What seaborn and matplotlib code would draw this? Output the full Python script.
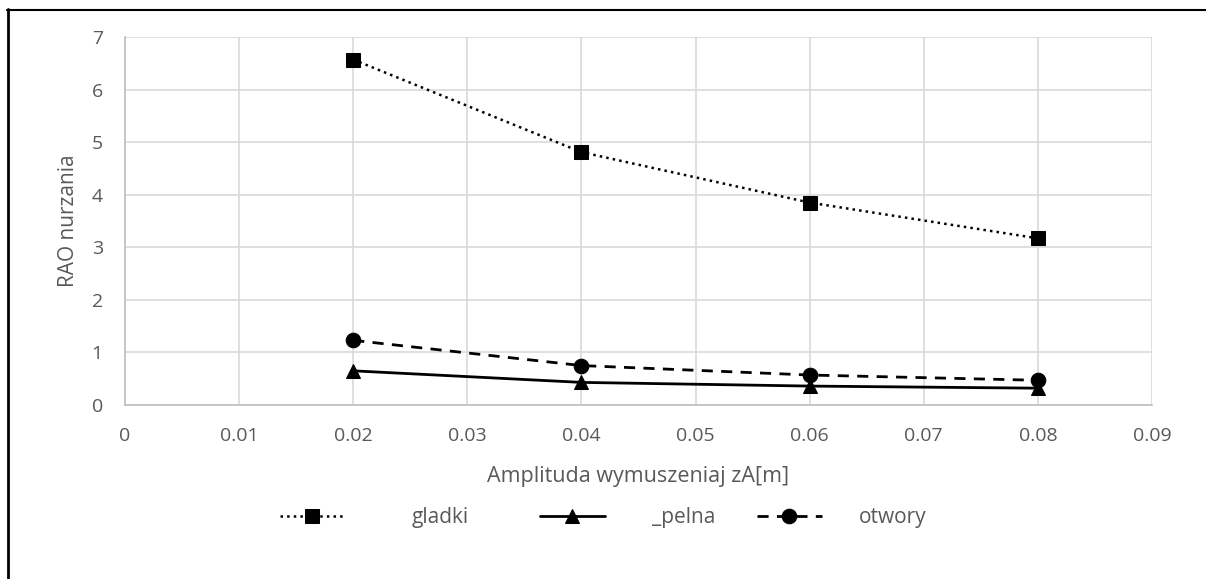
import numpy as np
import pandas as pd
import matplotlib
matplotlib.use("Agg")
import matplotlib.pyplot as plt
from matplotlib.lines import Line2D
import seaborn as sns

# values
amplituda = [0.02, 0.04, 0.06, 0.08]
gladki = [6.57, 4.81, 3.85, 3.17]
pelna = [0.65, 0.43, 0.36, 0.32]
otwory = [1.23, 0.75, 0.57, 0.47]

series_names = ["gladki", "_pelna", "otwory"]
x_ticks = [0, 0.01, 0.02, 0.03, 0.04, 0.05, 0.06, 0.07, 0.08, 0.09]
x_ticklabels = ["0", "0.01", "0.02", "0.03", "0.04", "0.05", "0.06", "0.07", "0.08", "0.09"]
y_ticks = [0, 1, 2, 3, 4, 5, 6, 7]

sns.set_style("white")
plt.rcParams["font.family"] = ["Open Sans", "DejaVu Sans"]

df = pd.DataFrame({
    "x": amplituda * 3,
    "y": gladki + pelna + otwory,
    "seria": [n for n in series_names for _ in amplituda],
})

fig = plt.figure(figsize=(12.06, 5.79), dpi=100)
ax = fig.add_axes([125 / 1206, 1 - 405 / 579, (1152 - 125) / 1206, (405 - 37) / 579])

styles = {"gladki": (":", "s", 1.8, 10.5),
          "_pelna": ("-", "^", 2.0, 10.5),
          "otwory": ((0, (4, 3)), "o", 2.0, 10.5)}
handles = []
for name in series_names:
    ls, mk, lw, ms = styles[name]
    sub = df[df["seria"] == name]
    sns.lineplot(data=sub, x="x", y="y", ax=ax, color="black", linestyle=ls,
                 linewidth=lw, marker=mk, markersize=ms, markeredgecolor="black",
                 legend=False, zorder=3)
    handles.append(ax.lines[-1])

ax.set_xlim(0, 0.09)
ax.set_ylim(0, 7)
ax.set_xticks(x_ticks)
ax.set_xticklabels(x_ticklabels)
ax.set_yticks(y_ticks)
ax.grid(True, color="#d9d9d9", linewidth=1.2)
for side in ["top", "right"]:
    ax.spines[side].set_visible(False)
for side in ["left", "bottom"]:
    ax.spines[side].set_color("#bfbfbf")
    ax.spines[side].set_linewidth(1.2)
ax.tick_params(colors="#595959", labelsize=14, length=0, pad=16)

ax.set_xlabel("Amplituda wymuszeniaj zA[m]", fontsize=15.5, color="#595959", labelpad=15)
ax.set_ylabel("RAO nurzania", fontsize=15, color="#595959", labelpad=9)

# legend entries are spaced unevenly in the reference, so one small legend per entry
leg_x = [280, 540, 757]
leg_pad = [3.2, 2.3, 1.8]
for h, name, x0, tp in zip(handles, series_names, leg_x, leg_pad):
    leg = fig.legend([h], [name], loc="center left",
                     bbox_to_anchor=(x0 / 1206, 1 - 518 / 579),
                     frameon=False, fontsize=15, handlelength=3.1, handletextpad=tp,
                     borderpad=0, borderaxespad=0)
    for t in leg.get_texts():
        t.set_color("#595959")

# outer frame of the chart area (only left and top edges are visible)
fig.add_artist(Line2D([7.5 / 1206, 7.5 / 1206], [0, 1 - 9 / 579], transform=fig.transFigure,
                      color="black", linewidth=2))
fig.add_artist(Line2D([6.5 / 1206, 1], [1 - 9.5 / 579, 1 - 9.5 / 579], transform=fig.transFigure,
                      color="black", linewidth=1.5))

fig.savefig("out.png", dpi=100)
